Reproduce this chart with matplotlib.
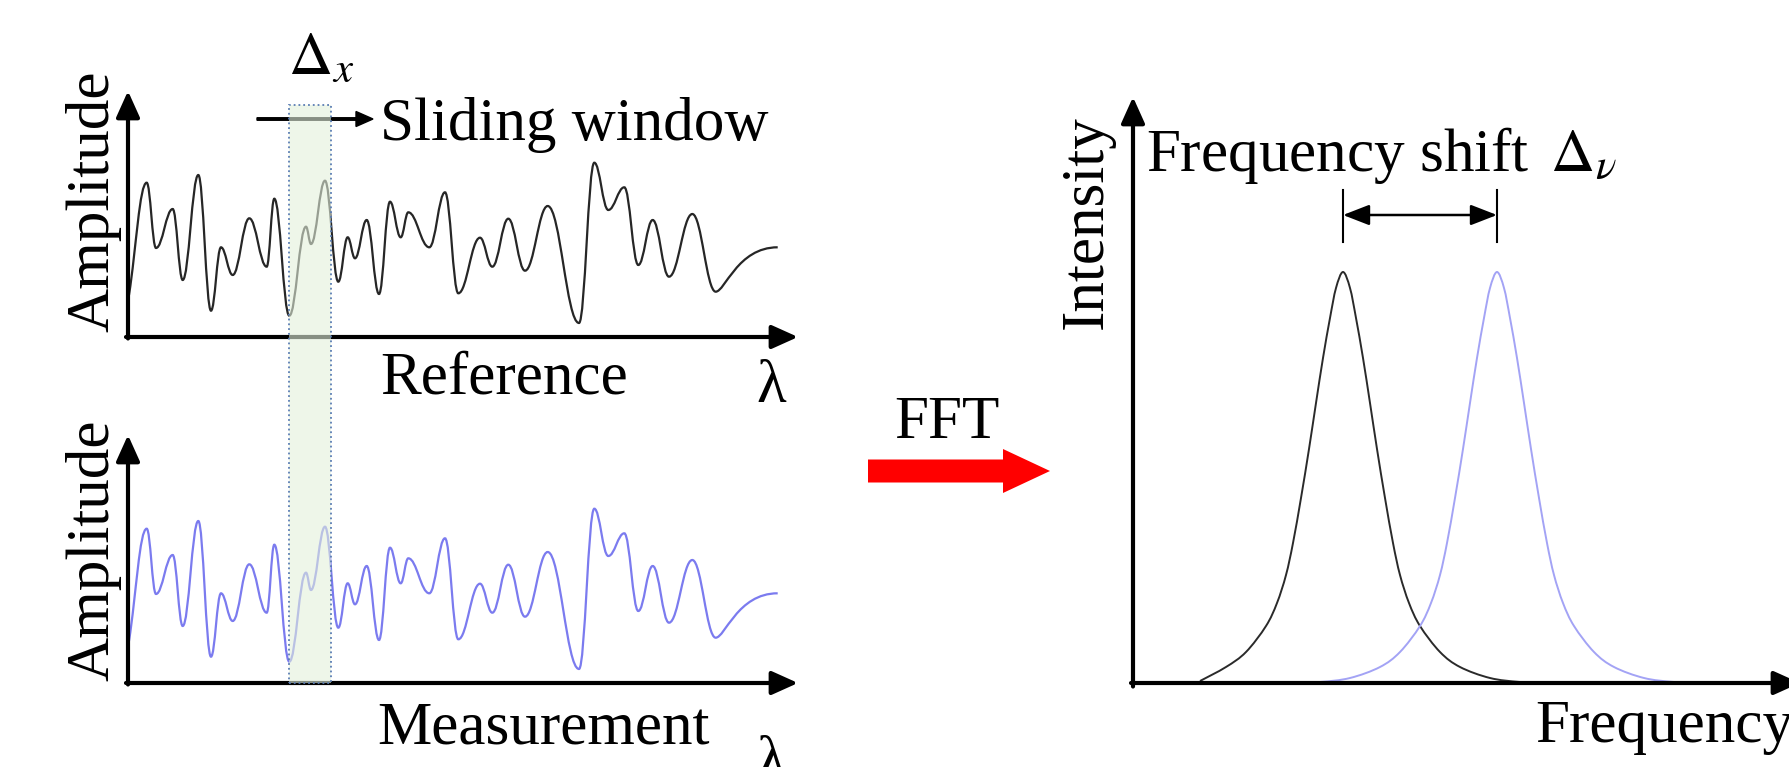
import numpy as np
import matplotlib
matplotlib.use('Agg')
import matplotlib.pyplot as plt
from matplotlib.path import Path
from matplotlib.patches import PathPatch, Rectangle, FancyArrow

plt.rcParams['font.family'] = ['Liberation Serif', 'DejaVu Serif']
plt.rcParams['mathtext.fontset'] = 'stix'

    ## 0 Data
# interference trace: extrema (wavelength, amplitude), arbitrary units
wave_x = [1, 18.7, 28, 44.7, 54.7, 70.3, 83, 93, 104.7, 121.3, 138.7, 146.3,
          161.3, 178, 183, 197, 210.3, 219.7, 227, 238.7, 251, 262, 272.7,
          280.3, 301.3, 317, 330.3, 352, 364.3, 380.3, 397, 419.7, 451,
          466.3, 480.3, 496.3, 510.3, 524.7, 541, 564.3, 587.7, 649.7]
wave_y = [42, 154.3, 89, 128, 57, 162, 26.3, 89.7, 62, 118.7, 70.3, 138.3,
          21.3, 110.3, 93, 156.3, 55.3, 99.7, 78.7, 117, 43, 135.3, 99.7,
          124.7, 89.7, 144.7, 43.7, 99.3, 70.3, 118.3, 66.3, 131, 14,
          174.3, 127, 149.7, 72, 117, 60.3, 123, 45.3, 89.7]

# sliding window limits (same units as wave_x)
window = [161.3, 203.5]

# FFT peaks (frequency, intensity)
ref_peak_x = [67, 93, 113, 133, 144, 153, 160, 168, 176, 183, 190, 197, 203,
              210, 217, 223, 230, 237, 244, 252, 260, 267, 276, 287, 307, 327,
              357, 387, 416]
ref_peak_y = [2, 16, 31, 57, 80, 108, 140, 185, 234, 280, 325, 365, 395,
              411, 395, 365, 325, 280, 234, 185, 140, 108, 80, 57, 31, 16,
              5, 1, 0]
meas_peak_x = [157, 187, 217, 247, 267, 287, 298, 307, 314, 322, 330, 337,
               344, 351, 357, 364, 371, 377, 384, 391, 398, 406, 414, 421,
               430, 441, 461, 481, 511, 541, 570]
meas_peak_y = [0, 1, 5, 16, 31, 57, 80, 108, 140, 185, 234, 280,
               325, 365, 395, 411, 395, 365, 325, 280, 234, 185, 140, 108,
               80, 57, 31, 16, 5, 1, 0]

W, H = 1790, 767
fig = plt.figure(figsize=(W / 100, H / 100), dpi=100)


def panel(x0, y0, w, h, z):
    # origin at pixel (x0, y0), arrows reach w to the right and h up
    ax = fig.add_axes([x0 / W, 1 - y0 / H, w / W, h / H], zorder=z)
    ax.set_xlim(0, w)
    ax.set_ylim(0, h)
    ax.axis('off')
    ax.patch.set_alpha(0)
    arr = dict(arrowstyle='-|>,head_length=0.8,head_width=0.36', lw=3,
               color='black', shrinkA=0, shrinkB=0, mutation_scale=20)
    ax.annotate('', xy=(1, 0), xytext=(-0.003, 0), xycoords='axes fraction',
                arrowprops=arr, annotation_clip=False)
    ax.annotate('', xy=(0, 1), xytext=(0, -0.006), xycoords='axes fraction',
                arrowprops=arr, annotation_clip=False)
    return ax


def wave_path(xs, ys, k=0.4):
    # bezier between extrema, flat tangent at each turning point
    verts = [(xs[0], ys[0])]
    codes = [Path.MOVETO]
    n = len(xs)
    for i in range(n - 1):
        dx = xs[i + 1] - xs[i]
        if i == 0:
            c1 = (xs[0] + k * dx, ys[0] + k * (ys[1] - ys[0]))
            c2 = (xs[1] - k * dx, ys[1])
        elif i == n - 2:
            c1 = (xs[i] + 0.15 * dx, ys[i])
            c2 = (xs[i + 1] - 0.65 * dx, ys[i + 1])
        else:
            c1 = (xs[i] + k * dx, ys[i])
            c2 = (xs[i + 1] - k * dx, ys[i + 1])
        verts += [c1, c2, (xs[i + 1], ys[i + 1])]
        codes += [Path.CURVE4] * 3
    return Path(verts, codes)


def smooth_path(xs, ys):
    # catmull-rom through the read points
    p = np.column_stack([xs, ys]).astype(float)
    n = len(p)
    verts = [tuple(p[0])]
    codes = [Path.MOVETO]
    for i in range(n - 1):
        p0 = p[i - 1] if i > 0 else p[i]
        p3 = p[i + 2] if i + 2 < n else p[i + 1]
        c1 = p[i] + (p[i + 1] - p0) / 6
        c2 = p[i + 1] - (p3 - p[i]) / 6
        verts += [tuple(c1), tuple(c2), tuple(p[i + 1])]
        codes += [Path.CURVE4] * 3
    return Path(verts, codes)


def ptext(x, y, s, **kw):
    fig.text(x / W, 1 - y / H, s, fontsize=44, **kw)


ax_ref = panel(128, 337, 670, 246, 2)
ax_meas = panel(128, 683, 670, 248, 3)
ax_fft = panel(1133, 683, 667, 586, 2)

ax_ref.add_patch(PathPatch(wave_path(wave_x, wave_y), fill=False,
                           edgecolor='#262626', lw=1.6))
ax_meas.add_patch(PathPatch(wave_path(wave_x, wave_y), fill=False,
                            edgecolor='#7b7bef', lw=1.6))

# sliding window across both traces
ax_meas.add_patch(Rectangle((window[0], 0), window[1] - window[0], 578,
                            facecolor=(0.89, 0.94, 0.86, 0.6),
                            edgecolor='#5a7db3', lw=1.3, linestyle=':',
                            clip_on=False, zorder=5))

# FFT peaks
ax_fft.add_patch(PathPatch(smooth_path(ref_peak_x, ref_peak_y), fill=False,
                           edgecolor='#2a2a2a', lw=1.4))
ax_fft.add_patch(PathPatch(smooth_path(meas_peak_x, meas_peak_y), fill=False,
                           edgecolor='#a3a3f5', lw=1.4))
for xc in [210, 364]:
    ax_fft.plot([xc, xc], [441, 493], color='black', lw=1.5)
ax_fft.annotate('', xy=(364, 468), xytext=(210, 468),
                arrowprops=dict(arrowstyle='<|-|>,head_length=0.9,head_width=0.35',
                                lw=1.8, color='black', shrinkA=0, shrinkB=0,
                                mutation_scale=18))

# sliding arrow
fig.add_artist(FancyArrow(257 / W, 1 - 119 / H, (373 - 257) / W, 0,
                          width=2.5 / H, head_width=15 / H, head_length=17 / W,
                          length_includes_head=True, color='black',
                          transform=fig.transFigure))
# FFT arrow
fig.add_artist(FancyArrow(868 / W, 1 - 471 / H, (1050 - 868) / W, 0,
                          width=23 / H, head_width=44 / H, head_length=47 / W,
                          length_includes_head=True, color='#ff0000',
                          lw=0, transform=fig.transFigure))

ptext(321, 74, r'$\Delta_x$', ha='center', va='baseline')
ptext(380, 140, 'Sliding window', ha='left', va='baseline')
ptext(380, 394, 'Reference', ha='left', va='baseline')
ptext(756, 402, 'λ', ha='left', va='baseline')
ptext(377, 744, 'Measurement', ha='left', va='baseline')
ptext(756, 778, 'λ', ha='left', va='baseline')
ptext(108, 201, 'Amplitude', ha='center', va='baseline', rotation=90,
      rotation_mode='anchor')
ptext(108, 550, 'Amplitude', ha='center', va='baseline', rotation=90,
      rotation_mode='anchor')
ptext(894, 438, 'FFT', ha='left', va='baseline')
ptext(1146, 171, r'Frequency shift $\,\Delta_\nu$', ha='left', va='baseline')
ptext(1102, 222, 'Intensity', ha='center', va='baseline', rotation=90,
      rotation_mode='anchor')
ptext(1535, 742, 'Frequency', ha='left', va='baseline')

plt.savefig('out.png', dpi=100)
